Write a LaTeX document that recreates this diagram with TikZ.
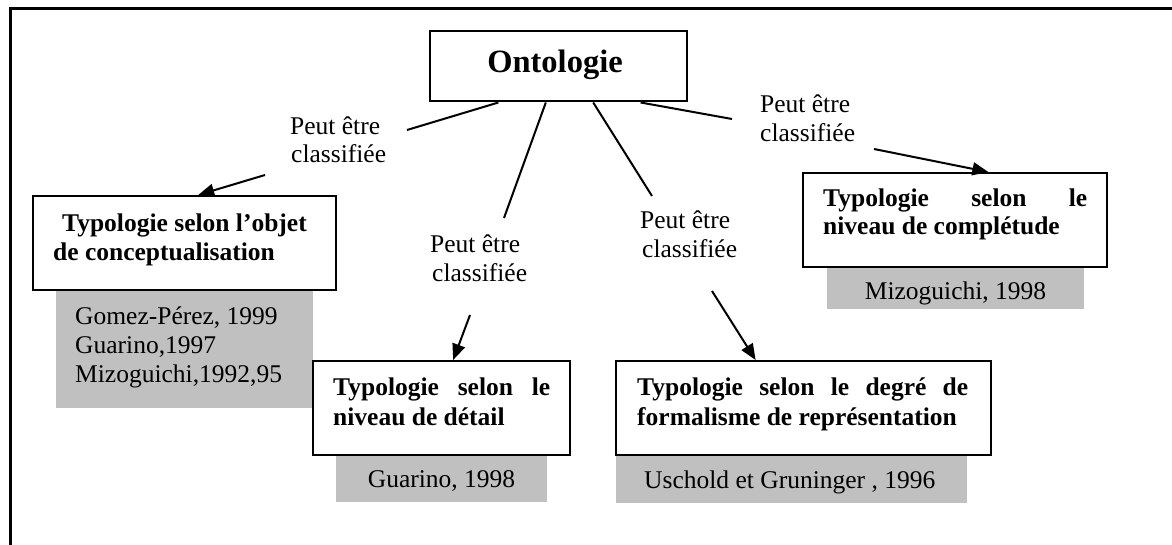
\documentclass[tikz,border=0pt]{standalone}
\usepackage{fontspec}
\setmainfont{Liberation Serif}
\usetikzlibrary{arrows.meta,calc}
\definecolor{refgray}{HTML}{C0C0C0}
\begin{document}
\begin{tikzpicture}[x=1pt,y=-1pt,
  txt/.style={font=\fontsize{25.5}{29}\selectfont, inner sep=0, anchor=base west},
  btxt/.style={font=\fontsize{25.5}{29}\selectfont\bfseries, inner sep=0, anchor=base west},
  tbox/.style={draw, line width=2pt, fill=white, inner sep=0},
  gbox/.style={fill=refgray, draw=none, inner sep=0},
  link/.style={line width=2pt},
  arr/.style={line width=2pt, -{Triangle[length=16pt,width=13pt]}}]
\useasboundingbox (0,0) rectangle (1172,545);

% page frame (top and left rules)
\draw[line width=3.6pt] (10.5,545) -- (10.5,8.5) -- (1172,8.5);

% root
\node[tbox, minimum width=257pt, minimum height=70pt] (ont) at (558.5,66.5) {};
\node[font=\fontsize{32.5}{36}\selectfont\bfseries, inner sep=0, anchor=base] (ontt) at (555,73) {Ontologie};

% reference boxes (grey) first, then the typology boxes over them
\node[gbox, minimum width=257pt, minimum height=118pt] (g1) at (184.5,349) {};
\node[gbox, minimum width=211pt, minimum height=47pt] (g2) at (441.5,478.5) {};
\node[gbox, minimum width=351pt, minimum height=48pt] (g3) at (791.5,479) {};
\node[gbox, minimum width=257pt, minimum height=42pt] (g4) at (955.5,288) {};

\node[tbox, minimum width=303pt, minimum height=94pt] (b1) at (184.5,243) {};
\node[tbox, minimum width=257pt, minimum height=94pt] (b2) at (441.5,408) {};
\node[tbox, minimum width=375pt, minimum height=94pt] (b3) at (803.5,408) {};
\node[tbox, minimum width=304pt, minimum height=94pt] (b4) at (955,220) {};

% typology titles
\node[btxt] (b1a) at (62,232) {Typologie selon l’objet};
\node[btxt] (b1b) at (53,261) {de conceptualisation};
\node[btxt] (b2a) at (333,395) {\makebox[217pt][s]{Typologie selon le}};
\node[btxt] (b2b) at (333,425) {niveau de détail};
\node[btxt] (b3a) at (637,395) {\makebox[331pt][s]{Typologie selon le degré de}};
\node[btxt] (b3b) at (637,425) {formalisme de représentation};
\node[btxt] (b4a) at (823,207) {\makebox[264pt][s]{Typologie selon le}};
\node[btxt] (b4b) at (823,235) {niveau de complétude};

% references
\node[txt] (g1a) at (75,324) {Gomez-Pérez, 1999};
\node[txt] (g1b) at (75,353) {Guarino,1997};
\node[txt] (g1c) at (75,382) {Mizoguichi,1992,95};
\node[txt, anchor=base] (g2a) at (441.5,487) {Guarino, 1998};
\node[txt] (g3a) at (644,488) {Uschold et Gruninger , 1996};
\node[txt, anchor=base] (g4a) at (955.5,299) {Mizoguichi, 1998};

% relation labels
\node[txt] (l1a) at (290,135) {Peut être};
\node[txt] (l1b) at (291,163) {classifiée};
\node[txt] (l2a) at (430,253) {Peut être};
\node[txt] (l2b) at (432,282) {classifiée};
\node[txt] (l3a) at (640,229) {Peut être};
\node[txt] (l3b) at (642,258) {classifiée};
\node[txt] (l4a) at (760,113) {Peut être};
\node[txt] (l4b) at (760,142) {classifiée};

% free ends of the connectors
\coordinate (e1) at (407,130);
\coordinate (e2) at (504,218);
\coordinate (e3) at (652,196);
\coordinate (e4) at (732,119);
\coordinate (s1) at (265,175);
\coordinate (s2) at (470,315);
\coordinate (s3) at (712,291);
\coordinate (s4) at (874,149);

% root to labels
\draw[link] ($(ont.south west)!0.268!(ont.south east)$) -- (e1);
\draw[link] ($(ont.south west)!0.451!(ont.south east)$) -- (e2);
\draw[link] ($(ont.south west)!0.634!(ont.south east)$) -- (e3);
\draw[link] ($(ont.south west)!0.817!(ont.south east)$) -- (e4);

% labels to typologies
\draw[arr] (s1) -- ($(b1.north west)!0.545!(b1.north east)$);
\draw[arr] (s2) -- ($(b2.north west)!0.545!(b2.north east)$);
\draw[arr] (s3) -- ($(b3.north west)!0.373!(b3.north east)$);
\draw[arr] (s4) -- ($(b4.north west)!0.609!(b4.north east)$);
\end{tikzpicture}
\end{document}
